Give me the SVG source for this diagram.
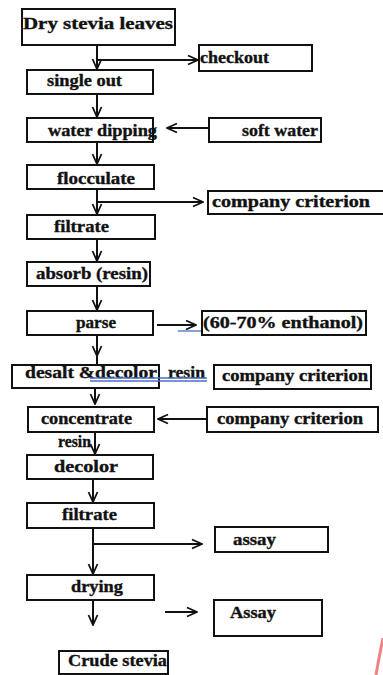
<svg xmlns="http://www.w3.org/2000/svg" width="383" height="675" viewBox="0 0 383 675">
<style>
.b{fill:#fff;stroke:#111;stroke-width:2}
.t{font-family:"Liberation Serif","Times New Roman",serif;font-weight:bold;font-size:17px;fill:#111;stroke:#111;stroke-width:0.35}
.c{stroke:#111;stroke-width:2;fill:none}
.u{stroke:#4a6fc8;stroke-width:1.3;fill:none}
</style>
<defs>
<marker id="a" viewBox="0 0 12 12" refX="11" refY="6" markerWidth="12" markerHeight="12" markerUnits="userSpaceOnUse" orient="auto">
<polyline points="1,1.5 11,6 1,10.5" fill="none" stroke="#111" stroke-width="1.8"/>
</marker>
</defs>
<rect width="383" height="675" fill="#fff"/>
<g id="connectors">
<line class="c" x1="97" y1="45" x2="97" y2="69" marker-end="url(#a)"/>
<line class="c" x1="97" y1="60" x2="198" y2="60" marker-end="url(#a)"/>
<line class="c" x1="97" y1="94" x2="97" y2="117" marker-end="url(#a)"/>
<line class="c" x1="222" y1="128" x2="167" y2="128" marker-end="url(#a)"/>
<line class="c" x1="97" y1="142" x2="97" y2="164" marker-end="url(#a)"/>
<line class="c" x1="97" y1="189" x2="97" y2="214" marker-end="url(#a)"/>
<line class="c" x1="97" y1="202" x2="203" y2="202" marker-end="url(#a)"/>
<line class="c" x1="97" y1="239" x2="97" y2="261" marker-end="url(#a)"/>
<line class="c" x1="97" y1="286" x2="97" y2="310" marker-end="url(#a)"/>
<line class="c" x1="157" y1="325" x2="196" y2="325" marker-end="url(#a)"/>
<line class="u" x1="178" y1="331" x2="203" y2="331"/>
<line class="c" x1="97" y1="335" x2="97" y2="356" marker-end="url(#a)"/>
<line class="c" x1="97" y1="356" x2="97" y2="365"/>
<line class="c" x1="95" y1="388" x2="95" y2="404" marker-end="url(#a)"/>
<line class="c" x1="206" y1="419" x2="158" y2="419" marker-end="url(#a)"/>
<line class="c" x1="95" y1="432" x2="95" y2="454" marker-end="url(#a)"/>
<line class="c" x1="93" y1="479" x2="93" y2="502" marker-end="url(#a)"/>
<line class="c" x1="93" y1="528" x2="93" y2="574" marker-end="url(#a)"/>
<line class="c" x1="93" y1="544" x2="202" y2="544" marker-end="url(#a)"/>
<line class="c" x1="93" y1="600" x2="93" y2="625" marker-end="url(#a)"/>
<line class="c" x1="165" y1="612" x2="197" y2="612" marker-end="url(#a)"/>
</g>
<g id="n1"><rect class="b" x="22" y="9" width="153" height="36"/><text class="t" x="23" y="29" font-size="20" textLength="150" lengthAdjust="spacingAndGlyphs">Dry stevia leaves</text></g>
<g id="n2"><rect class="b" x="199" y="45" width="113" height="26"/><text class="t" x="200" y="63" textLength="69" lengthAdjust="spacingAndGlyphs">checkout</text></g>
<g id="n3"><rect class="b" x="27" y="70" width="126" height="24"/><text class="t" x="47" y="86" textLength="75" lengthAdjust="spacingAndGlyphs">single out</text></g>
<g id="n4"><rect class="b" x="27" y="118" width="126" height="24"/><text class="t" x="48" y="136" textLength="109" lengthAdjust="spacingAndGlyphs">water dipping</text></g>
<g id="n5"><rect class="b" x="209" y="118" width="112" height="24"/><text class="t" x="242" y="136" textLength="76" lengthAdjust="spacingAndGlyphs">soft water</text></g>
<g id="n6"><rect class="b" x="27" y="165" width="127" height="24"/><text class="t" x="57" y="184" textLength="78" lengthAdjust="spacingAndGlyphs">flocculate</text></g>
<g id="n7"><rect class="b" x="208" y="191" width="177" height="23"/><text class="t" x="212" y="207" textLength="158" lengthAdjust="spacingAndGlyphs">company criterion</text></g>
<g id="n8"><rect class="b" x="27" y="215" width="128" height="24"/><text class="t" x="54" y="232" textLength="55" lengthAdjust="spacingAndGlyphs">filtrate</text></g>
<g id="n9"><rect class="b" x="27" y="262" width="123" height="24"/><text class="t" x="36" y="279" textLength="112" lengthAdjust="spacingAndGlyphs">absorb (resin)</text></g>
<g id="n10"><rect class="b" x="27" y="311" width="126" height="24"/><text class="t" x="76" y="328" textLength="40" lengthAdjust="spacingAndGlyphs">parse</text></g>
<g id="n11"><rect class="b" x="202" y="311" width="164" height="24"/><text class="t" x="203" y="328" textLength="160" lengthAdjust="spacingAndGlyphs">(60-70% enthanol)</text></g>
<g id="n12"><rect class="b" x="12" y="365" width="147" height="23"/><text class="t" x="25" y="378" textLength="132" lengthAdjust="spacingAndGlyphs">desalt &amp;decolor</text></g>
<g id="l1"><text class="t" x="168" y="378" textLength="37" lengthAdjust="spacingAndGlyphs">resin</text></g>
<line class="u" x1="90" y1="378" x2="207" y2="378"/>
<line class="u" x1="90" y1="381" x2="207" y2="381"/>
<g id="n13"><rect class="b" x="214" y="365" width="157" height="24"/><text class="t" x="222" y="381" textLength="146" lengthAdjust="spacingAndGlyphs">company criterion</text></g>
<g id="n14"><rect class="b" x="28" y="407" width="126" height="25"/><text class="t" x="41" y="424" textLength="91" lengthAdjust="spacingAndGlyphs">concentrate</text></g>
<g id="n15"><rect class="b" x="207" y="407" width="171" height="25"/><text class="t" x="217" y="424" textLength="146" lengthAdjust="spacingAndGlyphs">company criterion</text></g>
<g id="l2"><text class="t" x="58" y="447" textLength="33" lengthAdjust="spacingAndGlyphs">resin</text></g>
<g id="n16"><rect class="b" x="27" y="455" width="126" height="24"/><text class="t" x="54" y="472" textLength="64" lengthAdjust="spacingAndGlyphs">decolor</text></g>
<g id="n17"><rect class="b" x="27" y="503" width="127" height="25"/><text class="t" x="62" y="520" textLength="55" lengthAdjust="spacingAndGlyphs">filtrate</text></g>
<g id="n18"><rect class="b" x="215" y="527" width="113" height="25"/><text class="t" x="233" y="545" textLength="43" lengthAdjust="spacingAndGlyphs">assay</text></g>
<g id="n19"><rect class="b" x="27" y="575" width="127" height="25"/><text class="t" x="71" y="592" textLength="52" lengthAdjust="spacingAndGlyphs">drying</text></g>
<g id="n20"><rect class="b" x="214" y="600" width="108" height="36"/><text class="t" x="230" y="618" textLength="46" lengthAdjust="spacingAndGlyphs">Assay</text></g>
<g id="n21"><rect class="b" x="59" y="651" width="109" height="23"/><text class="t" x="68" y="666" textLength="99" lengthAdjust="spacingAndGlyphs">Crude stevia</text></g>
<path d="M383,638 Q379,657 376,675" stroke="#e23030" stroke-width="3" fill="none" opacity="0.6"/>
</svg>
